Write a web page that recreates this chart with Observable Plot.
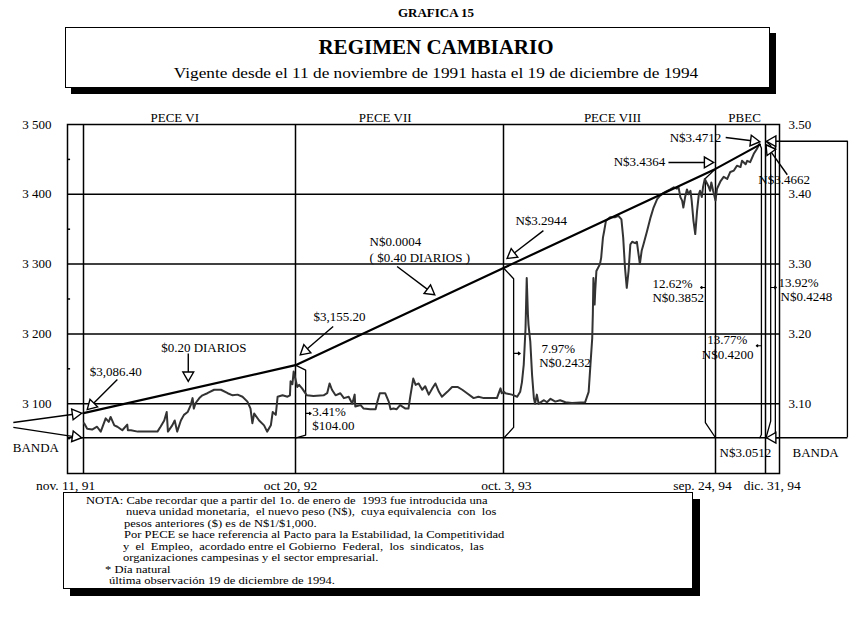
<!DOCTYPE html>
<html><head><meta charset="utf-8">
<script src="https://cdn.jsdelivr.net/npm/d3@7"></script>
<script src="https://cdn.jsdelivr.net/npm/@observablehq/plot@0.6"></script>
<style>
body{margin:0;background:#fff;font-family:"Liberation Serif","Times New Roman",serif;color:#000;}
#page{position:relative;width:854px;height:626px;overflow:hidden;background:#fff}
.c{position:absolute;left:436px;transform:translateX(-50%);white-space:nowrap;}
#tbox{position:absolute;left:65px;top:27px;width:703px;height:59px;border:1px solid #000;box-shadow:6px 6px 0 #000;background:#fff}
#chart{position:absolute;left:0;top:100px}
#nbox{position:absolute;left:63px;top:492px;width:628px;height:95px;border:1px solid #000;box-shadow:7px 7px 0 #000;background:#fff}
.n{position:absolute;white-space:nowrap;font-size:11px;line-height:11px;transform:scaleX(1.14);transform-origin:0 50%}
</style></head><body>
<div id="page">
  <div class="c" style="top:6px;font-weight:bold;font-size:13px;line-height:13px">GRAFICA 15</div>
  <div id="tbox"></div>
  <div class="c" style="top:37px;font-weight:bold;font-size:21px;line-height:21px">REGIMEN CAMBIARIO</div>
  <div class="c" style="top:66px;font-size:15px;line-height:15px;transform:translateX(-50%) scaleX(1.15)">Vigente desde el 11 de noviembre de 1991 hasta el 19 de diciembre de 1994</div>
  <div id="chart"></div>
  <div id="nbox"></div>
  <div class="n" style="left:86px;top:494.5px">NOTA: Cabe recordar que a partir del 1o. de enero de&nbsp; 1993 fue introducida una</div>
  <div class="n" style="left:126px;top:506px">nueva unidad monetaria,&nbsp; el nuevo peso (N$),&nbsp; cuya equivalencia&nbsp; con&nbsp; los</div>
  <div class="n" style="left:124px;top:517.5px">pesos anteriores ($) es de N$1/$1,000.</div>
  <div class="n" style="left:124px;top:529px">Por PECE se hace referencia al Pacto para la Estabilidad, la Competitividad</div>
  <div class="n" style="left:123px;top:540.5px">y&nbsp; el&nbsp; Empleo,&nbsp; acordado entre el Gobierno&nbsp; Federal,&nbsp; los&nbsp; sindicatos,&nbsp; las</div>
  <div class="n" style="left:123px;top:552px">organizaciones campesinas y el sector empresarial.</div>
  <div class="n" style="left:105px;top:563.5px">* Día natural</div>
  <div class="n" style="left:109px;top:575px">última observación 19 de diciembre de 1994.</div>
</div>
<script>
// ---- data ----
const rateDates = [
"1991-11-12","1991-11-17","1991-11-25","1991-12-03","1991-12-09","1991-12-17","1991-12-22","1991-12-25","1991-12-31",
"1992-01-05","1992-01-13","1992-01-21","1992-01-22","1992-01-27","1992-02-07","1992-03-10","1992-03-15","1992-03-21",
"1992-03-25","1992-03-27","1992-04-03","1992-04-07","1992-04-11","1992-04-17","1992-04-22","1992-04-28","1992-05-03",
"1992-05-06","1992-05-08","1992-05-11","1992-05-17","1992-05-22","1992-05-30","1992-06-10","1992-06-21","1992-07-02",
"1992-07-10","1992-07-18","1992-07-26","1992-08-03","1992-08-08","1992-08-11","1992-08-14","1992-08-22","1992-08-30",
"1992-09-04","1992-09-10","1992-09-13","1992-09-18","1992-09-21","1992-09-29","1992-10-07","1992-10-11","1992-10-12",
"1992-10-15","1992-10-17","1992-10-20","1992-10-23","1992-10-26","1992-10-31","1992-11-08","1992-11-19","1992-12-06",
"1992-12-12","1992-12-16","1992-12-20","1992-12-26","1993-01-03","1993-01-09","1993-01-17","1993-01-23","1993-01-27",
"1993-01-28","1993-02-06","1993-02-11","1993-02-22","1993-03-03","1993-03-06","1993-03-10","1993-03-19","1993-03-25",
"1993-03-28","1993-04-02","1993-04-07","1993-04-13","1993-04-22","1993-04-27","1993-04-30","1993-05-05","1993-05-09",
"1993-05-14","1993-05-20","1993-05-25","1993-05-31","1993-06-06","1993-06-11","1993-06-17","1993-06-22","1993-07-01",
"1993-07-09","1993-07-18","1993-07-26","1993-08-03","1993-08-14","1993-08-22","1993-08-31","1993-09-11","1993-09-22",
"1993-09-28","1993-09-30","1993-10-04","1993-10-06","1993-10-17","1993-10-26","1993-10-31","1993-11-03","1993-11-06",
"1993-11-09","1993-11-11","1993-11-13","1993-11-14","1993-11-17","1993-11-20","1993-11-23","1993-11-25","1993-11-28",
"1993-12-01","1993-12-10","1993-12-15","1993-12-21","1993-12-29","1994-01-06","1994-01-15","1994-01-26","1994-02-17",
"1994-02-23","1994-02-26","1994-03-01","1994-03-02","1994-03-03","1994-03-05","1994-03-06","1994-03-08","1994-03-14",
"1994-03-16","1994-03-19","1994-03-21","1994-03-24","1994-03-31","1994-04-08","1994-04-14","1994-04-19","1994-04-22",
"1994-04-25","1994-04-28","1994-05-01","1994-05-04","1994-05-07","1994-05-12","1994-05-15","1994-05-17","1994-05-20",
"1994-05-23","1994-05-26","1994-06-01","1994-06-07","1994-06-12","1994-06-18","1994-06-23","1994-06-29","1994-07-05",
"1994-07-10","1994-07-16","1994-07-21","1994-07-24","1994-07-27","1994-07-30","1994-08-01","1994-08-04","1994-08-07",
"1994-08-10","1994-08-13","1994-08-15","1994-08-18","1994-08-21","1994-08-24","1994-08-27","1994-08-29","1994-09-01",
"1994-09-03","1994-09-06","1994-09-09","1994-09-12","1994-09-15","1994-09-17","1994-09-20","1994-09-24","1994-09-27",
"1994-10-04","1994-10-10","1994-10-17","1994-10-23","1994-10-30","1994-11-05","1994-11-12","1994-11-15","1994-11-22",
"1994-11-25","1994-12-01","1994-12-08","1994-12-14","1994-12-19"];
const rateValues = [
3072,3064,3063,3067,3060,3079,3074,3081,3069,
3067,3062,3070,3062,3062,3060,3060,3067,3076,
3088,3060,3069,3076,3060,3076,3084,3088,3098,
3108,3093,3101,3108,3112,3115,3120,3120,3115,
3112,3113,3110,3103,3093,3072,3086,3076,3069,
3060,3069,3088,3084,3110,3112,3110,3112,3132,
3128,3146,3135,3124,3127,3122,3112,3111,3112,
3115,3129,3120,3112,3115,3108,3110,3100,3113,
3096,3098,3093,3092,3092,3103,3115,3115,3103,
3092,3093,3092,3098,3093,3093,3110,3136,3127,
3129,3120,3125,3113,3122,3129,3117,3110,3117,
3124,3124,3120,3115,3108,3110,3108,3108,3108,
3122,3115,3117,3115,3113,3110,3117,3131,3156,
3208,3280,3228,3213,3189,3141,3108,3100,3113,
3100,3105,3102,3107,3103,3105,3102,3101,3102,
3117,3156,3194,3228,3280,3242,3261,3290,3300,
3309,3338,3347,3362,3367,3367,3369,3364,3338,
3295,3266,3290,3328,3332,3330,3332,3319,3300,
3319,3328,3347,3367,3381,3393,3398,3402,3405,
3407,3410,3408,3410,3396,3391,3381,3396,3407,
3400,3405,3391,3362,3343,3376,3400,3405,3396,
3410,3422,3417,3412,3405,3417,3405,3391,3408,
3419,3425,3422,3432,3434,3441,3439,3448,3443,
3448,3446,3458,3465,3472];

// band ceiling (techo) and floor (piso)
const ceilDates = ["1991-11-11","1992-10-20","1993-10-03","1994-09-24","1994-12-20"];
const ceilValues = [3086.4, 3155.2, 3294.4, 3436.4, 3471.2];
const floorValue = 3051.2;

const yTicks = [3100, 3200, 3300, 3400, 3500];
const yTickLabels = ["3 100", "3 200", "3 300", "3 400", "3 500"];
const yTickLabelsRight = ["3.10", "3.20", "3.30", "3.40", "3.50"];
const yMinor = [3050, 3150, 3250, 3350, 3450];

const periodDates = ["1991-11-11","1992-10-20","1993-10-03","1994-09-24","1994-12-31"];
const xTickLabels = ["nov. 11, 91","oct 20, 92","oct. 3, 93","sep. 24, 94","dic. 31, 94"];
const xTickLabelDates = ["1991-10-13","1992-10-12","1993-10-08","1994-09-02","1995-01-13"];

const periodLabels = ["PECE VI","PECE VII","PECE VIII","PBEC"];
const periodLabelDates = ["1992-04-07","1993-03-19","1994-04-04","1994-11-20"];

const extraLineDates = ["1995-01-19","1995-06-07"];
const extraLineTop = 3476;

const annoText = ["$3,086.40","$0.20 DIARIOS","$3,155.20","N$0.0004","( $0.40 DIARIOS )","N$3.2944","7.97%","N$0.2432",
  "3.41%","$104.00","12.62%","N$0.3852","13.77%","N$0.4200","13.92%","N$0.4248","N$3.4364","N$3.4712","N$3.4662","N$3.0512","BANDA","BANDA"];
const annoDates = ["1991-11-21","1992-03-16","1992-11-19","1993-02-21","1993-02-21","1993-10-23","1993-12-06","1993-12-02",
  "1992-11-17","1992-11-17","1994-06-10","1994-06-10","1994-09-10","1994-09-01","1995-01-25","1995-01-29","1994-04-06","1994-07-09","1994-12-17","1994-10-02","1995-02-21","1991-07-19"];
const annoValues = [3146,3180,3225,3332,3309,3362,3179,3158,3088,3068,3272,3252,3192,3170,3273,3253,3446,3481,3421,3030,3029,3037];

const arrowFromDates = ["1992-01-05","1992-04-29","1992-12-22","1993-04-08","1993-12-09","1994-07-07","1994-10-14","1995-02-11","1995-06-07","1995-06-07","1991-07-20","1991-07-20"];
const arrowFromValues = [3134.7,3172,3210.6,3296.6,3348,3445.6,3481.4,3428,3476,3051.2,3073,3066];
const arrowToDates = ["1991-11-17","1992-04-29","1992-10-28","1993-06-10","1993-10-09","1994-09-21","1994-12-20","1995-01-01","1995-01-02","1995-01-02","1991-11-08","1991-11-08"];
const arrowToValues = [3091.5,3132,3170,3256,3308,3445.6,3475.3,3471,3476,3051.2,3086.4,3051.2];

const tickFromDates = ["1992-11-06","1993-10-20","1994-09-07","1994-12-23","1995-01-10"];
const tickToDates = ["1992-11-15","1993-10-31","1994-08-30","1994-12-13","1995-01-21"];
const tickValues = [3086,3172,3266.5,3183,3266.5];

const bracketIds = [1,1,1,1, 2,2,2,2, 3,3,3,3, 4,4,4,4, 5,5,5,5];
const bracketDates = [
  "1992-10-20","1992-11-06","1992-11-06","1992-10-21",
  "1993-10-03","1993-10-20","1993-10-20","1993-10-04",
  "1994-09-24","1994-09-07","1994-09-07","1994-09-24",
  "1994-12-20","1994-12-23","1994-12-23","1994-12-20",
  "1995-01-01","1995-01-10","1995-01-10","1995-01-01"];
const bracketValues = [
  3155.2,3148,3055,3051.2,
  3294.4,3279,3066,3051.2,
  3436.4,3422.6,3073,3051.2,
  3471.2,3466,3056,3051.2,
  3476,3470,3075,3051.2];

// ---- build ----
const P = d3.utcParse("%Y-%m-%d");
const xDomain = ["1991-10-16","1991-11-11","1992-10-20","1993-10-03","1994-09-24","1994-12-31","1995-01-27"].map(P);
const xRange = [67, 83, 295, 503, 715, 765, 779];
const W = 854, H = 394, mT = 24, mB = 21;
const xs = d3.scaleUtc().domain(xDomain).range(xRange);
const ys = d3.scaleLinear().domain([3000, 3500]).range([H - mB, mT]);
const headR = 4;
const tipOffset = 2 * Math.sqrt(Math.PI * headR * headR / (3 * Math.sqrt(3)));

const rate = rateDates.map((d, i) => ({date: P(d), value: rateValues[i]}));
const ceil = ceilDates.map((d, i) => ({date: P(d), value: ceilValues[i]}));
const anno = annoText.map((t, i) => ({text: t, date: P(annoDates[i]), value: annoValues[i]}));
const arrows = arrowFromDates.map((d, i) => {
  const a = {x1: P(d), y1: arrowFromValues[i], x2: P(arrowToDates[i]), y2: arrowToValues[i]};
  const px1 = xs(a.x1), py1 = ys(a.y1), px2 = xs(a.x2), py2 = ys(a.y2);
  const len = Math.hypot(px2 - px1, py2 - py1) || 1;
  const ux = (px2 - px1) / len, uy = (py2 - py1) / len;
  a.cx = xs.invert(px2 - ux * tipOffset);
  a.cy = ys.invert(py2 - uy * tipOffset);
  a.rot = Math.atan2(ux, -uy) * 180 / Math.PI;
  return a;
});
const ticks = tickFromDates.map((d, i) => ({x1: P(d), x2: P(tickToDates[i]), y: tickValues[i]}));
const brackets = bracketDates.map((d, i) => ({id: bracketIds[i], date: P(d), value: bracketValues[i]}));
const yt = yTicks.map((v, i) => ({v, l: yTickLabels[i], r: yTickLabelsRight[i]}));
const xt = xTickLabelDates.map((d, i) => ({date: P(d), l: xTickLabels[i]}));
const pl = periodLabels.map((l, i) => ({l, date: P(periodLabelDates[i])}));
const extra = extraLineDates.map(d => ({date: P(d)}));
const periods = periodDates.map(P);
const xStart = xDomain[0], xMinorEnd = P("1991-10-21");

const chart = Plot.plot({
  width: W, height: H,
  marginLeft: 67, marginRight: 75, marginTop: mT, marginBottom: mB,
  style: {fontFamily: "'Liberation Serif', 'Times New Roman', serif", fontSize: "13px", background: "transparent", color: "#000", overflow: "visible"},
  x: {type: "utc", axis: null, domain: xDomain, range: xRange},
  y: {domain: [3000, 3500], axis: null},
  marks: [
    Plot.ruleY(yTicks.slice(0, 4), {stroke: "#000", strokeWidth: 1.5}),
    Plot.ruleY([floorValue], {stroke: "#000", strokeWidth: 1.5}),
    Plot.ruleY(yMinor, {x1: xStart, x2: xMinorEnd, stroke: "#000", strokeWidth: 1.5}),
    Plot.ruleX(periods, {stroke: "#000", strokeWidth: 1.5}),
    Plot.ruleX(extra, {x: "date", y1: floorValue, y2: extraLineTop, stroke: "#000", strokeWidth: 1.3}),
    Plot.frame({stroke: "#000", strokeWidth: 1.5}),
    Plot.line(brackets, {x: "date", y: "value", z: "id", stroke: "#000", strokeWidth: 1.3}),
    Plot.line(rate, {x: "date", y: "value", stroke: "#333", strokeWidth: 2}),
    Plot.line(ceil, {x: "date", y: "value", stroke: "#000", strokeWidth: 2.2}),
    Plot.link(arrows, {x1: "x1", y1: "y1", x2: "cx", y2: "cy", stroke: "#000", strokeWidth: 1.4}),
    Plot.dot(arrows, {x: "cx", y: "cy", symbol: "triangle", r: headR, rotate: "rot", fill: "#fff", stroke: "#000", strokeWidth: 1.4}),
    Plot.arrow(ticks, {x1: "x1", y1: "y", x2: "x2", y2: "y", stroke: "#000", strokeWidth: 1.2, headLength: 4, headAngle: 70}),
    Plot.text(anno, {x: "date", y: "value", text: "text", textAnchor: "start", fontSize: 13, fill: "#000"}),
    Plot.text(yt, {y: "v", text: "l", frameAnchor: "left", textAnchor: "end", dx: -16, fontSize: 13}),
    Plot.text(yt, {y: "v", text: "r", frameAnchor: "right", textAnchor: "start", dx: 9, fontSize: 13}),
    Plot.text(xt, {x: "date", text: "l", frameAnchor: "bottom", dy: 16, fontSize: 13.5}),
    Plot.text(pl, {x: "date", text: "l", frameAnchor: "top", dy: -12, fontSize: 13})
  ]
});
document.getElementById("chart").appendChild(chart);
</script>
</body></html>
